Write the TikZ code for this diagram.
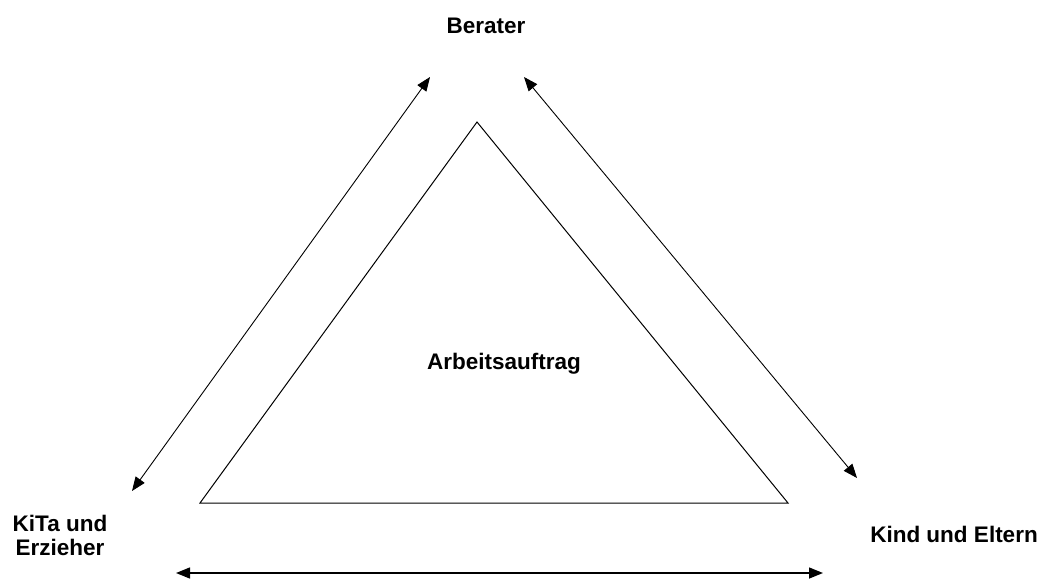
\documentclass[tikz,border=0pt]{standalone}
\usepackage{fontspec}
\setmainfont{Liberation Sans}
\usetikzlibrary{arrows.meta}
\begin{document}
\begin{tikzpicture}[x=1pt,y=-1pt,
  label/.style={font=\fontsize{22.5}{24}\selectfont\bfseries, inner sep=0pt, anchor=base, align=center},
  link/.style={line width=0.9pt, {Triangle[length=14pt,width=11pt]}-{Triangle[length=14pt,width=11pt]}},
  frame/.style={line width=1pt, line join=miter}]
\useasboundingbox (0,0) rectangle (1044,581);

% labels
\node[label] (berater) at (486,33) {Berater};
\node[label] (auftrag) at (504,369) {Arbeitsauftrag};
\node[label] (kita) at (60,555) {KiTa und\\Erzieher};
\node[label] (eltern) at (954,542) {Kind und Eltern};

% inner triangle
\coordinate (apex) at (477,122);
\coordinate (bl) at (200,503);
\coordinate (br) at (788,503);
\draw[frame] (apex) -- (br) -- (bl) -- cycle;

% arrow ends
\coordinate (la) at (132,491);
\coordinate (lb) at (430,77);
\coordinate (ra) at (524,77);
\coordinate (rb) at (857,478);
\coordinate (ba) at (176,573);
\coordinate (bb) at (823,573);

\draw[link] (la) -- (lb);
\draw[link] (ra) -- (rb);
\draw[link, line width=1.4pt] (ba) -- (bb);
\end{tikzpicture}
\end{document}
